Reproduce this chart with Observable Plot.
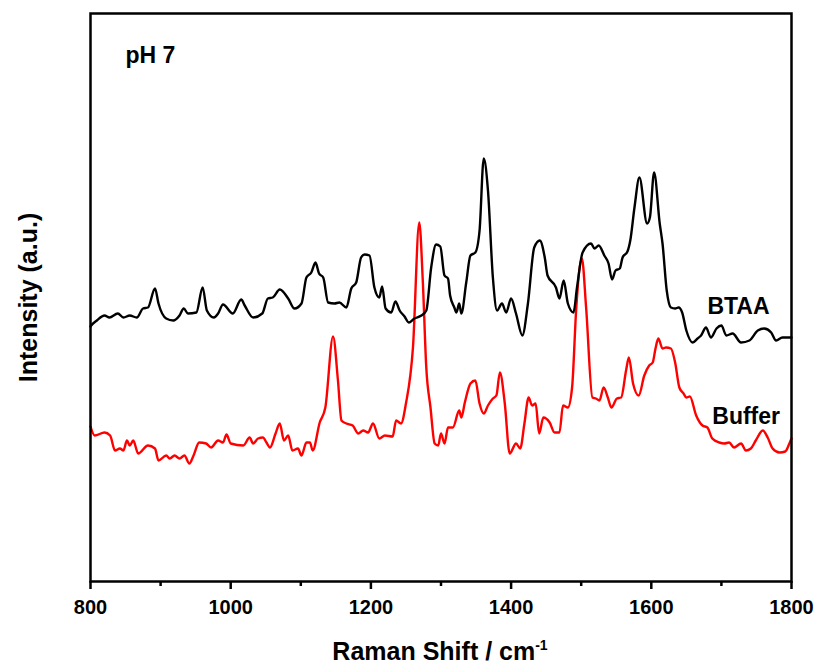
<!DOCTYPE html>
<html><head><meta charset="utf-8">
<script src="https://cdn.jsdelivr.net/npm/d3@7"></script>
<script src="https://cdn.jsdelivr.net/npm/@observablehq/plot@0.6"></script>
<style>
body{margin:0;background:#fff;font-family:"Liberation Sans",Arial,sans-serif;}
#wrap{position:relative;width:814px;height:666px;overflow:hidden;background:#fff;}
#xtitle{position:absolute;left:240px;width:400px;top:638px;text-align:center;font-size:25px;font-weight:bold;line-height:26px;color:#000;}
#xtitle sup{font-size:14px;vertical-align:10px;line-height:0;}
</style></head><body>
<div id="wrap"><div id="chart"></div><div id="xtitle">Raman Shift / cm<sup>-1</sup></div></div>
<script>
const btaaShift = [800,801,809,820,827,839,847,856,866,875,882,892,897,908,918,927,933,939,951,960,966,976,982,989,1003,1015,1020,1032,1045,1053,1060,1070,1082,1091,1101,1108,1115,1121,1126,1132,1139,1148,1155,1165,1172,1179,1186,1191,1198,1205,1212,1216,1221,1229,1235,1241,1248,1254,1262,1272,1279,1286,1293,1299,1305,1310,1313,1319,1322,1326,1329,1336,1342,1349,1355,1361,1367,1374,1380,1387,1393,1400,1407,1416,1424,1433,1441,1448,1452,1464,1469,1475,1481,1489,1494,1502,1514,1519,1525,1533,1539,1544,1549,1555,1559,1566,1570,1576,1583,1594,1598,1604,1612,1616,1622,1628,1634,1639,1644,1650,1659,1666,1671,1678,1685,1693,1700,1707,1716,1728,1740,1752,1761,1771,1778,1787,1797,1800];
const btaaIntensity = [255,256,261,266,264,268,264,266,264,273,274,293,278,263,261,266,273,268,269,294,271,264,268,277,268,282,276,264,268,283,284,292,283,273,278,304,309,319,308,304,279,278,279,274,293,299,324,327,326,294,284,295,273,269,280,271,265,259,263,266,271,314,337,335,306,303,286,274,269,278,268,299,326,329,351,423,391,304,271,278,269,283,268,246,278,334,341,324,306,294,283,301,278,269,294,329,338,333,336,326,318,302,311,313,324,330,341,374,404,358,364,409,358,338,291,274,273,274,269,251,239,243,246,254,244,253,256,246,248,239,241,251,253,249,241,244,244,244];
const bufferShift = [800,806,820,828,835,842,847,852,856,861,868,882,892,897,908,913,920,927,934,941,947,955,965,972,982,989,994,1000,1018,1027,1032,1039,1046,1051,1056,1064,1070,1076,1082,1088,1096,1101,1108,1113,1117,1127,1135,1146,1153,1158,1165,1174,1182,1189,1196,1203,1212,1220,1231,1236,1243,1250,1260,1269,1274,1279,1285,1291,1296,1300,1305,1310,1317,1326,1329,1334,1342,1349,1355,1361,1367,1374,1379,1384,1391,1398,1407,1413,1419,1425,1430,1435,1440,1446,1455,1462,1469,1474,1481,1487,1493,1501,1507,1516,1521,1526,1532,1538,1543,1551,1557,1564,1568,1574,1582,1590,1597,1602,1606,1610,1616,1621,1628,1634,1640,1646,1650,1655,1664,1673,1680,1687,1697,1704,1711,1718,1728,1735,1742,1749,1759,1766,1773,1783,1791,1797,1800];
const bufferIntensity = [155,146,149,146,131,133,131,141,136,141,128,136,133,121,126,123,126,123,126,118,126,139,138,134,141,139,147,138,136,144,138,143,144,139,134,148,158,141,146,131,133,126,139,139,131,159,174,245,201,161,158,156,148,151,149,158,143,146,145,161,158,178,234,359,301,214,174,138,136,148,138,154,154,171,164,179,198,201,178,168,176,183,186,209,178,128,138,133,158,184,176,178,148,164,159,149,149,176,174,194,274,323,274,184,183,181,194,184,174,183,184,211,224,198,186,206,216,219,233,243,233,234,233,219,194,188,184,185,166,156,154,143,139,138,139,134,138,131,133,141,151,144,133,129,130,138,143];
const majorTicks = [800,1000,1200,1400,1600,1800];
const minorTicks = [900,1100,1300,1500,1700];
const seriesLabels = [
  {label: "BTAA", shift: 1680, value: 268},
  {label: "Buffer", shift: 1687, value: 158},
  {label: "pH 7", shift: 850, value: 519}
];
const yTitle = ["Intensity (a.u.)"];

const btaa = btaaShift.map((x, i) => ({x, y: btaaIntensity[i]}));
const buffer = bufferShift.map((x, i) => ({x, y: bufferIntensity[i]}));

const chart = Plot.plot({
  width: 814, height: 630,
  marginTop: 13, marginBottom: 49, marginLeft: 90, marginRight: 23,
  style: {fontFamily: "'Liberation Sans', Arial, sans-serif", background: "white", color: "black"},
  x: {domain: [800, 1800], axis: null},
  y: {domain: [0, 568], axis: null},
  marks: [
    Plot.line(buffer, {x: "x", y: "y", stroke: "#ff0000", strokeWidth: 2.4, curve: "monotone-x"}),
    Plot.line(btaa, {x: "x", y: "y", stroke: "#000000", strokeWidth: 2.4, curve: "monotone-x"}),
    Plot.axisX(majorTicks, {tickSize: 8, tickPadding: 10, strokeWidth: 2.5, fontSize: 20, fontWeight: "bold", label: null, tickFormat: d => String(d)}),
    Plot.axisX(minorTicks, {tickSize: 5, strokeWidth: 2.5, fill: "none", label: null}),
    Plot.frame({stroke: "black", strokeWidth: 2.5}),
    Plot.text(seriesLabels, {x: "shift", y: "value", text: "label", textAnchor: "start", lineAnchor: "bottom", fontSize: 23, fontWeight: "bold", fill: "black"}),
    Plot.text(yTitle, {text: d => d, frameAnchor: "left", dx: -62, rotate: -90, textAnchor: "middle", lineAnchor: "middle", fontSize: 25, fontWeight: "bold", fill: "black"})
  ]
});
document.getElementById("chart").appendChild(chart);
</script>
</body></html>
